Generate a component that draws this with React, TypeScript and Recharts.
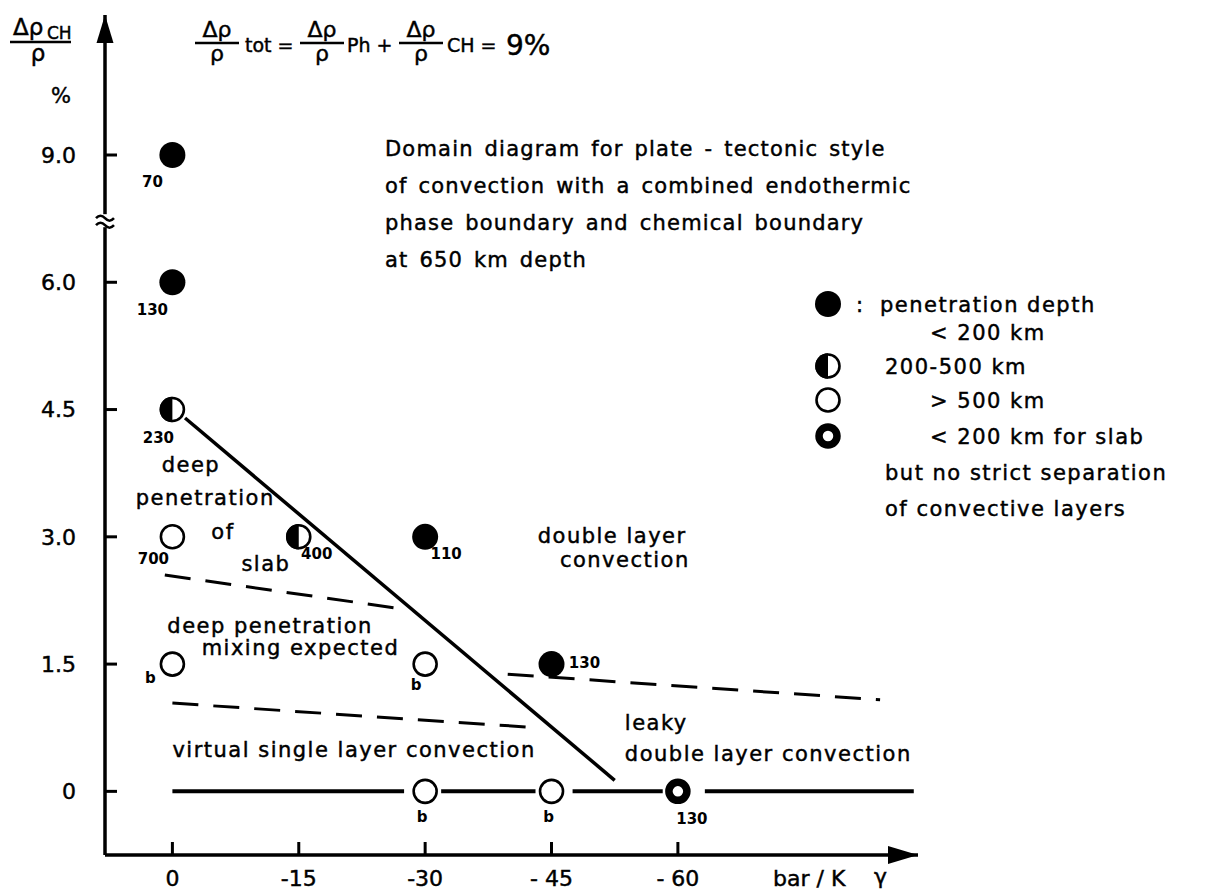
import React from 'react';
import { ComposedChart, Line, Scatter, XAxis, YAxis, ReferenceDot, Legend } from 'recharts';

const FONT = '"DejaVu Sans", sans-serif';

// model runs: gamma (bar/K), density contrast (%), penetration class, run label
const gammaValues = [0, 0, 0, 0, -15, -30, 0, -30, -45, -30, -45, -60];
const densityValues = [9.0, 6.0, 4.5, 3.0, 3.0, 3.0, 1.5, 1.5, 1.5, 0, 0, 0];
const depthClasses = ['filled', 'filled', 'half', 'open', 'half', 'filled', 'open', 'open', 'filled', 'open', 'open', 'ring'];
const runLabels = ['70', '130', '230', '700', '400', '110', 'b', 'b', '130', 'b', 'b', '130'];

// domain boundaries, [gamma, density]
const boundarySolid = [[-1.5, 4.4], [-52.5, 0.13]];
const boundaryUpper = [[0.9, 2.55], [-28, 2.14]];
const boundaryLower = [[0, 1.04], [-43.4, 0.75]];
const boundaryRight = [[-39.8, 1.38], [-84, 1.08]];
const baseSegments = [[0, -27.5], [-31.9, -43.1], [-47.5, -58.2], [-63.2, -88]];

const xTicks = [0, -15, -30, -45, -60];
const xTickLabels = ['0', '-15', '-30', '- 45', '- 60'];
const yTicks = [0, 1.5, 3.0, 4.5, 6.0, 9.0];
const yTickLabels = ['0', '1.5', '3.0', '4.5', '6.0', '9.0'];

const legendKinds = ['filled', 'half', 'open', 'ring'];
const legendTexts = ['penetration depth', '< 200 km', '200-500 km', '> 500 km', '< 200 km for slab', 'but no strict separation', 'of convective layers'];

const titleLines = [
  'Domain diagram for plate - tectonic style',
  'of convection with a combined endothermic',
  'phase boundary and chemical boundary',
  'at 650 km depth',
];

// axis is broken between 6.0 and 9.0
const plotY = (v: number) => (v > 6 ? v - 1.5 : v);

const runs = gammaValues.map((g, i) => ({
  gamma: g,
  y: plotY(densityValues[i]),
  kind: depthClasses[i],
  label: runLabels[i],
  i,
}));

const toRows = (pts: number[][]) => pts.map(([g, v]) => ({ gamma: g, y: v }));

// label offsets from marker centre, by run index
const labelOffsets = [[-20, 27], [-20, 27], [-14, 28], [-19, 22], [18, 17], [21, 17], [-22, 14], [-9, 21], [33, -1], [-3, 25], [-3, 25], [14, 27]];

// region notes: text, gamma, density, anchor
const notes: [string, number, number, string][] = [
  ['deep', -2.2, 3.85, 'middle'],
  ['penetration', -3.9, 3.46, 'middle'],
  ['of', -6.0, 3.06, 'middle'],
  ['slab', -11.1, 2.69, 'middle'],
  ['deep penetration', -11.6, 1.96, 'middle'],
  ['mixing expected', -15.2, 1.7, 'middle'],
  ['double layer', -52.2, 3.02, 'middle'],
  ['convection', -53.7, 2.73, 'middle'],
  ['virtual single layer convection', 0, 0.49, 'start'],
  ['leaky', -53.7, 0.81, 'start'],
  ['double layer convection', -53.7, 0.45, 'start'],
];

// slightly heavier lettering, like the drawn original
const ink = { fill: '#000', stroke: '#000', strokeWidth: 0.45 };

function marker(kind: string, cx: number, cy: number) {
  if (kind === 'filled') return <circle cx={cx} cy={cy} r={13} fill="#000" />;
  if (kind === 'half')
    return (
      <g>
        <circle cx={cx} cy={cy} r={11.5} fill="#fff" stroke="#000" strokeWidth={2.6} />
        <path d={`M${cx} ${cy - 12.8} A12.8 12.8 0 0 0 ${cx} ${cy + 12.8} Z`} fill="#000" />
      </g>
    );
  if (kind === 'ring') return <circle cx={cx} cy={cy} r={9} fill="#fff" stroke="#000" strokeWidth={7.5} />;
  return <circle cx={cx} cy={cy} r={11.5} fill="#fff" stroke="#000" strokeWidth={2.6} />;
}

const RunMarker = (props: any) => {
  const { cx, cy, payload } = props;
  const [dx, dy] = labelOffsets[payload.i];
  return (
    <g>
      {marker(payload.kind, cx, cy)}
      <text x={cx + dx} y={cy + dy} dy="0.36em" textAnchor="middle" fontSize={15} fontWeight="bold" fontFamily={FONT} fill="#000">
        {payload.label}
      </text>
    </g>
  );
};

const XTick = (props: any) => {
  const { x, y, payload } = props;
  const idx = xTicks.indexOf(payload.value);
  return (
    <g>
      <line x1={x} y1={y - 13} x2={x} y2={y} stroke="#000" strokeWidth={3} />
      <text x={x} y={y + 31} textAnchor="middle" fontSize={22} fontFamily={FONT} {...ink}>
        {xTickLabels[idx]}
      </text>
    </g>
  );
};

const YTick = (props: any) => {
  const { x, y, payload } = props;
  const idx = yTicks.map(plotY).indexOf(payload.value);
  return (
    <g>
      <line x1={x} y1={y} x2={x + 12} y2={y} stroke="#000" strokeWidth={3} />
      <text x={x - 29} y={y} dy="0.36em" textAnchor="end" fontSize={22} fontFamily={FONT} {...ink}>
        {yTickLabels[idx]}
      </text>
    </g>
  );
};

const DepthLegend = () => {
  const symX = 38;
  const rows = [24, 52, 86, 120, 156, 192, 228];
  const textX = [90, 140, 95, 140, 140, 95, 95];
  return (
    <svg width={415} height={250} style={{ overflow: 'visible' }}>
      {legendKinds.map((k, i) => marker(k, symX, [rows[0], rows[2], rows[3], rows[4]][i]))}
      <text x={66} y={rows[0]} dy="0.36em" fontSize={21} fontFamily={FONT} {...ink}>:</text>
      {legendTexts.map((t, i) => (
        <text key={t} x={textX[i]} y={rows[i]} dy="0.36em" fontSize={21} letterSpacing={1.5} fontFamily={FONT} {...ink}>
          {t}
        </text>
      ))}
    </svg>
  );
};

const Frac = ({ cx }: { cx: number }) => (
  <g fontFamily={FONT} {...ink}>
    <text x={cx} y={37} textAnchor="middle" fontSize={22}>Δρ</text>
    <line x1={cx - 22} y1={43} x2={cx + 22} y2={43} stroke="#000" strokeWidth={2.5} />
    <text x={cx} y={61} textAnchor="middle" fontSize={22}>ρ</text>
  </g>
);

export default function App() {
  const lineProps = { type: 'linear' as const, dataKey: 'y', stroke: '#000', dot: false, isAnimationActive: false, legendType: 'none' as const };
  return (
    <div style={{ position: 'absolute', left: 0, top: 0, width: 1205, height: 890, background: '#fff' }}>
      <svg width={1205} height={120} style={{ position: 'absolute', left: 0, top: 0 }} fontFamily={FONT}>
        {/* y axis title */}
        <g {...ink}>
          <text x={13} y={35} fontSize={23}>Δρ</text>
          <text x={47} y={39} fontSize={17}>CH</text>
          <text x={38} y={61} textAnchor="middle" fontSize={23}>ρ</text>
          <text x={61} y={103} textAnchor="middle" fontSize={21}>%</text>
        </g>
        <line x1={10} y1={42} x2={71} y2={42} stroke="#000" strokeWidth={2.5} />
        {/* total density contrast */}
        <Frac cx={217} />
        <text x={245} y={52} fontSize={19} {...ink}>tot =</text>
        <Frac cx={322} />
        <text x={347} y={52} fontSize={19} {...ink}>Ph +</text>
        <Frac cx={421} />
        <text x={447} y={52} fontSize={19} {...ink}>CH =</text>
        <text x={506} y={55} fontSize={28} {...ink}>9%</text>
      </svg>
      <svg width={1205} height={300} style={{ position: 'absolute', left: 0, top: 0 }} fontFamily={FONT}>
        {titleLines.map((t, i) => (
          <text key={t} x={385} y={156 + i * 37} fontSize={21} letterSpacing={1.2} wordSpacing={3} {...ink}>
            {t}
          </text>
        ))}
      </svg>
      <ComposedChart width={1205} height={890} margin={{ top: 15, right: 287, bottom: 34, left: 104 }} style={{ position: 'absolute', left: 0, top: 0 }}>
        <XAxis
          type="number"
          dataKey="gamma"
          domain={[-88.5, 8]}
          reversed
          allowDataOverflow
          ticks={xTicks}
          tick={<XTick />}
          tickLine={false}
          tickSize={0}
          tickMargin={0}
          height={1}
          axisLine={{ stroke: '#000', strokeWidth: 3.5 }}
        />
        <YAxis
          type="number"
          dataKey="y"
          domain={[-0.75, 9.15]}
          allowDataOverflow
          ticks={yTicks.map(plotY)}
          tick={<YTick />}
          tickLine={false}
          tickSize={0}
          tickMargin={0}
          width={1}
          axisLine={{ stroke: '#000', strokeWidth: 3.5 }}
        />
        <Legend verticalAlign="middle" align="center" layout="horizontal" content={() => <DepthLegend />} wrapperStyle={{ left: 790, top: 280, width: 415, height: 250 }} />
        {baseSegments.map(([a, b], i) => (
          <Line key={`base${i}`} {...lineProps} data={toRows([[a, 0], [b, 0]])} strokeWidth={4} />
        ))}
        <Line {...lineProps} data={toRows(boundarySolid)} strokeWidth={3.5} />
        <Line {...lineProps} data={toRows(boundaryUpper)} strokeWidth={3} strokeDasharray="26 15" />
        <Line {...lineProps} data={toRows(boundaryLower)} strokeWidth={3} strokeDasharray="26 15" />
        <Line {...lineProps} data={toRows(boundaryRight)} strokeWidth={3} strokeDasharray="26 15" />
        <Scatter data={runs} shape={<RunMarker />} isAnimationActive={false} legendType="none" />
        {notes.map(([t, g, v, anchor]) => (
          <ReferenceDot
            key={t + g + v}
            x={g}
            y={v}
            r={0}
            ifOverflow="visible"
            shape={(p: any) => (
              <text x={p.cx} y={p.cy} dy="0.36em" textAnchor={anchor} fontSize={21} letterSpacing={1.5} fontFamily={FONT} {...ink}>
                {t}
              </text>
            )}
          />
        ))}
        {/* axis break */}
        <ReferenceDot
          x={8}
          y={6.72}
          r={0}
          ifOverflow="visible"
          shape={(p: any) => (
            <g>
              <rect x={p.cx - 9} y={p.cy - 7} width={18} height={13} fill="#fff" />
              <path d={`M${p.cx - 9} ${p.cy - 3} q4.5 -5 9 0 t9 0`} fill="none" stroke="#000" strokeWidth={2.5} />
              <path d={`M${p.cx - 9} ${p.cy + 4} q4.5 -5 9 0 t9 0`} fill="none" stroke="#000" strokeWidth={2.5} />
            </g>
          )}
        />
        {/* axis arrows */}
        <ReferenceDot x={-88.5} y={-0.75} r={0} ifOverflow="visible" shape={(p: any) => <path d={`M${p.cx} ${p.cy} l-30 -9 l0 18 z`} fill="#000" />} />
        <ReferenceDot x={8} y={9.15} r={0} ifOverflow="visible" shape={(p: any) => <path d={`M${p.cx} ${p.cy} l-8.5 28 l17 0 z`} fill="#000" />} />
        <ReferenceDot
          x={-88.5}
          y={-0.75}
          r={0}
          ifOverflow="visible"
          shape={(p: any) => (
            <g fontFamily={FONT} fontSize={22} {...ink}>
              <text x={p.cx - 145} y={p.cy + 31}>bar / K</text>
              <text x={p.cx - 44} y={p.cy + 29}>γ</text>
            </g>
          )}
        />
      </ComposedChart>
    </div>
  );
}
